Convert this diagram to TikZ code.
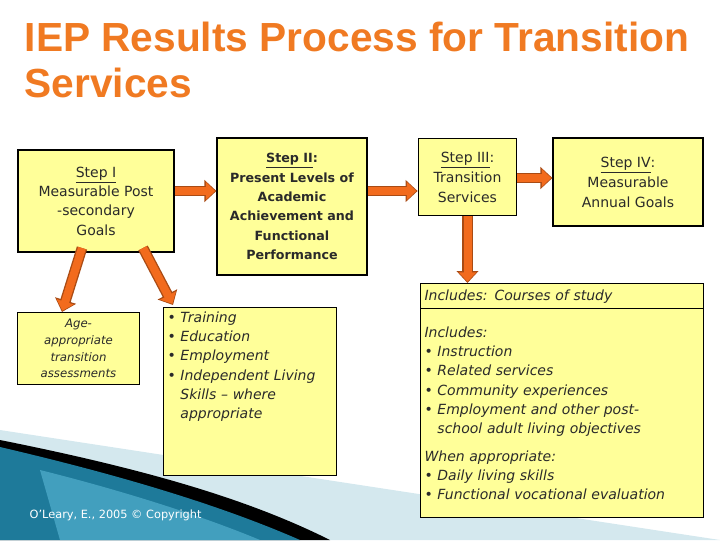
\documentclass[tikz,border=0pt]{standalone}
\usepackage{fontspec}
\setmainfont{DejaVu Sans}
\newfontfamily\titlefont{Liberation Sans}
\usetikzlibrary{arrows.meta}
\definecolor{boxy}{HTML}{FFFF99}
\definecolor{arrowor}{HTML}{F26B1D}
\definecolor{titleor}{HTML}{F07A22}
\definecolor{txt}{HTML}{2A2A2A}
\definecolor{teal1}{HTML}{1E7A9A}
\definecolor{teal2}{HTML}{5BB8D6}
\definecolor{pale}{HTML}{D4E8EE}
\begin{document}
\begin{tikzpicture}[x=0.75pt,y=-0.75pt,
  box/.style={draw=black,fill=boxy,line width=0.8pt,text=txt,align=center,inner sep=2pt,font=\fontsize{10.5}{14.5}\selectfont},
  lbox/.style={box,align=left,font=\fontsize{10.5}{14.5}\selectfont\itshape},
  arr/.style={draw=arrowor!70!black,line width=8pt,-{Triangle[width=16pt,length=9pt]}},
  arri/.style={draw=arrowor,line width=6pt,-{Triangle[width=13pt,length=7pt]},shorten >=1pt}]
\useasboundingbox (0,0) rectangle (720,540);
% bottom swoosh
\fill[pale] (0,430) -- (720,540) -- (0,540) -- cycle;
\fill[black] (0,440) .. controls (150,470) and (250,500) .. (330,540) -- (0,540) -- cycle;
\fill[teal1] (0,447) .. controls (120,475) and (220,505) .. (300,540) -- (0,540) -- cycle;
\fill[teal2,opacity=0.6] (40,470) .. controls (120,490) and (200,515) .. (260,540) -- (60,540) -- cycle;
\node[anchor=west,text=white,font=\fontsize{8.5}{10}\selectfont] (cr) at (25,515) {O'Leary, E., 2005 © Copyright};
% title
\node[anchor=north west,text=titleor,align=left,font=\titlefont\bfseries\fontsize{30.5}{35}\selectfont] (title) at (20,17) {IEP Results Process for Transition\\Services};
% boxes
\node[box,minimum width=117pt,minimum height=76.5pt] (s1) at (96,201) {\underline{Step I}\\Measurable Post\\-secondary\\Goals};
\node[box,minimum width=112.5pt,minimum height=102.75pt,font=\fontsize{9.5}{14.5}\selectfont\bfseries] (s2) at (292,206.5) {\underline{Step II}:\\Present Levels of\\Academic\\Achievement and\\Functional\\Performance};
\node[box,minimum width=74pt,minimum height=57.75pt,anchor=north,font=\fontsize{10.5}{15}\selectfont] (s3) at (467.5,138) {\underline{Step III}:\\Transition\\Services};
\node[box,minimum width=112.5pt,minimum height=66pt,font=\fontsize{10.5}{15}\selectfont] (s4) at (628,182) {\underline{Step IV}:\\Measurable\\Annual Goals};
\node[box,minimum width=91pt,minimum height=54pt,font=\fontsize{8.8}{12.5}\selectfont\itshape] (age) at (78.5,348.5) {Age-\\appropriate\\transition\\assessments};
\node[lbox,anchor=north west,text width=124pt,inner sep=3pt] (tr) at (163,307) {\textbullet~Training\\\textbullet~Education\\\textbullet~Employment\\\textbullet~Independent Living\\\phantom{\textbullet~}Skills -- where\\\phantom{\textbullet~}appropriate\\[25pt]\mbox{}};
\node[lbox,minimum width=212pt,minimum height=19pt,anchor=north west,text width=206pt] (cs) at (420,283) {Includes: Courses of study};
\node[lbox,minimum width=212pt,minimum height=157pt,anchor=north west,text width=206pt] (big) at (420,308) {Includes:\\\textbullet~Instruction\\\textbullet~Related services\\\textbullet~Community experiences\\\textbullet~Employment and other post-\\\phantom{\textbullet~}school adult living objectives\\[6pt]When appropriate:\\\textbullet~Daily living skills\\\textbullet~Functional vocational evaluation};
% arrows
\foreach \st in {arr,arri}{
  \draw[\st] (s1.east |- 0,191) -- (s2.west |- 0,191);
  \draw[\st] (s2.east |- 0,191) -- (s3.west |- 0,191);
  \draw[\st] (s3.east |- 0,178) -- (s4.west |- 0,178);
  \draw[\st] (82,248) -- (age.north -| 62,0);
  \draw[\st] (143,248) -- (173,305);
  \draw[\st] (s3.south) -- (cs.north -| s3.south);
}
\end{tikzpicture}
\end{document}
